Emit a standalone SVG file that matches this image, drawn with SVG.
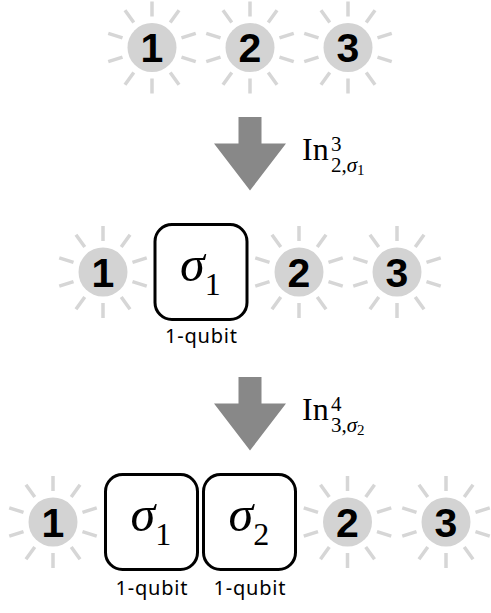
<svg xmlns="http://www.w3.org/2000/svg" xmlns:xlink="http://www.w3.org/1999/xlink" width="491" height="613" viewBox="0 0 491 613">
<style>
.rays{stroke:#d6d6d6;stroke-width:3.5;fill:none}
.disc{fill:#d3d3d3}
.num{font-family:"Liberation Sans",Arial,sans-serif;font-weight:bold;font-size:41px;fill:#000;text-anchor:middle}
.box{fill:#fff;stroke:#000;stroke-width:3}
.sig{font-family:"Liberation Serif",serif;font-size:50px;fill:#000}
.sig .s{font-style:italic}
.sig .sub{font-size:32px;font-style:normal}
.qb{font-family:"Noto Sans","Liberation Sans",sans-serif;font-size:20px;fill:#000;text-anchor:middle}
.arrow{fill:#888888}
.lab{font-family:"Liberation Serif",serif;fill:#000}
</style>
<defs>
<path id="ray" class="rays" d="M0,-31L0,-46M18.22,-25.08L27.04,-37.21M29.48,-9.58L43.75,-14.21M29.48,9.58L43.75,14.21M18.22,25.08L27.04,37.21M0,31L0,46M-18.22,25.08L-27.04,37.21M-29.48,9.58L-43.75,14.21M-29.48,-9.58L-43.75,-14.21M-18.22,-25.08L-27.04,-37.21"/>
</defs>

<!-- top row -->
<g id="t1"><use xlink:href="#ray" x="152" y="47.5"/><circle class="disc" cx="152" cy="47.5" r="24.5"/><text class="num" x="152" y="62">1</text></g>
<g id="t2"><use xlink:href="#ray" x="250" y="47.5"/><circle class="disc" cx="250" cy="47.5" r="24.5"/><text class="num" x="250" y="62">2</text></g>
<g id="t3"><use xlink:href="#ray" x="348" y="47.5"/><circle class="disc" cx="348" cy="47.5" r="24.5"/><text class="num" x="348" y="62">3</text></g>

<!-- middle row -->
<g id="m1"><use xlink:href="#ray" x="103" y="272"/><circle class="disc" cx="103" cy="272" r="24.5"/><text class="num" x="103" y="286.5">1</text></g>
<g id="mS1"><rect class="box" x="155" y="224.5" width="92" height="95" rx="17"/><text class="sig" x="180" y="281"><tspan class="s">σ</tspan><tspan class="sub" dy="13.5">1</tspan></text><text class="qb" x="201" y="343" textLength="72" lengthAdjust="spacing">1-qubit</text></g>
<g id="m2"><use xlink:href="#ray" x="299" y="272"/><circle class="disc" cx="299" cy="272" r="24.5"/><text class="num" x="299" y="286.5">2</text></g>
<g id="m3"><use xlink:href="#ray" x="397" y="272"/><circle class="disc" cx="397" cy="272" r="24.5"/><text class="num" x="397" y="286.5">3</text></g>

<!-- bottom row -->
<g id="b1"><use xlink:href="#ray" x="53" y="522"/><circle class="disc" cx="53" cy="522" r="24.5"/><text class="num" x="53" y="536.5">1</text></g>
<g id="bS1"><rect class="box" x="105.5" y="474.5" width="92" height="95" rx="17"/><text class="sig" x="130.5" y="531"><tspan class="s">σ</tspan><tspan class="sub" dy="13.5">1</tspan></text><text class="qb" x="151.5" y="595" textLength="72" lengthAdjust="spacing">1-qubit</text></g>
<g id="bS2"><rect class="box" x="203.5" y="474.5" width="92" height="95" rx="17"/><text class="sig" x="228.5" y="531"><tspan class="s">σ</tspan><tspan class="sub" dy="13.5">2</tspan></text><text class="qb" x="249.5" y="595" textLength="72" lengthAdjust="spacing">1-qubit</text></g>
<g id="b2"><use xlink:href="#ray" x="347.5" y="522"/><circle class="disc" cx="347.5" cy="522" r="24.5"/><text class="num" x="347.5" y="536.5">2</text></g>
<g id="b3"><use xlink:href="#ray" x="446" y="522"/><circle class="disc" cx="446" cy="522" r="24.5"/><text class="num" x="446" y="536.5">3</text></g>

<!-- connectors -->
<g id="connectors">
<path class="arrow" d="M238.5,117H261.5V143.5H286L250,190.5L214,143.5H238.5Z"/>
<text class="lab" x="302" y="160" font-size="32">In</text>
<text class="lab" x="331" y="151" font-size="21">3</text>
<text class="lab" x="331" y="172" font-size="21">2,<tspan font-style="italic">σ</tspan><tspan font-size="15" dy="3">1</tspan></text>
<path class="arrow" d="M238.5,377H261.5V403.5H286L250,450.5L214,403.5H238.5Z"/>
<text class="lab" x="302" y="420" font-size="32">In</text>
<text class="lab" x="331" y="411" font-size="21">4</text>
<text class="lab" x="331" y="432" font-size="21">3,<tspan font-style="italic">σ</tspan><tspan font-size="15" dy="3">2</tspan></text>
</g>
</svg>
